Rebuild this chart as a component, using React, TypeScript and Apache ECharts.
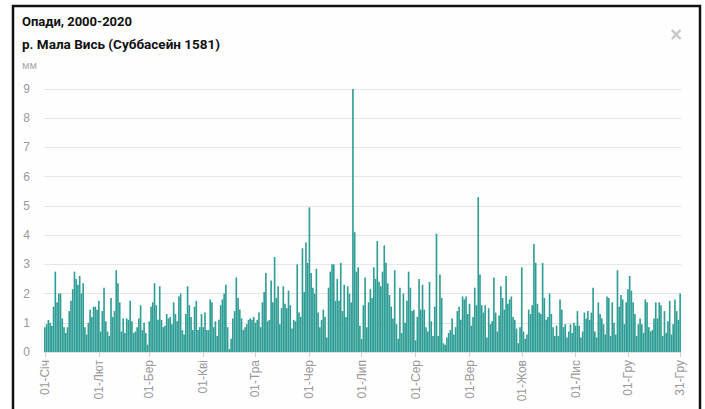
import React, { useEffect, useRef } from "react";
import * as echarts from "echarts";

const monthNames = ["Січ", "Лют", "Бер", "Кві", "Тра", "Чер", "Лип", "Сер", "Вер", "Жов", "Лис", "Гру"];
const monthDays = [31, 29, 31, 30, 31, 30, 31, 31, 30, 31, 30, 31];

const categories: string[] = [];
monthNames.forEach((m, mi) => {
  for (let d = 1; d <= monthDays[mi]; d++) {
    categories.push((d < 10 ? "0" + d : "" + d) + "-" + m);
  }
});

const valuesJanFeb = [
  0.85, 0.95, 1.1, 1.0, 0.9, 1.55, 2.75, 1.7, 2.0, 2.0,
  1.15, 0.85, 0.65, 0.85, 1.4, 1.75, 2.15, 2.75, 2.5, 2.3,
  2.6, 2.0, 2.35, 0.85, 0.6, 1.0, 1.45, 1.2, 1.55, 1.55,
  1.45, 1.75, 0.7, 1.4, 2.2, 1.05, 0.7, 0.55, 1.85, 1.2,
  1.4, 2.8, 2.35, 1.7, 0.7, 1.15, 0.65, 1.15, 1.1, 1.75,
  1.05, 0.65, 0.7, 0.85, 1.15, 1.6, 0.75, 1.0, 0.65,
];
const valuesMarApr = [
  0.25, 1.05, 1.55, 1.7, 2.35, 1.6, 1.1, 2.25, 1.1, 0.85,
  0.9, 1.3, 1.15, 1.2, 0.95, 1.7, 1.3, 1.05, 1.9, 2.0,
  0.75, 0.6, 1.3, 2.25, 1.6, 1.2, 0.75, 1.55, 1.75, 0.75,
  0.85, 1.3, 0.85, 1.35, 0.75, 0.75, 1.8, 1.7, 0.85, 1.05,
  0.55, 1.1, 1.6, 1.8, 2.0, 2.3, 0.85, 0.1, 0.45, 1.15,
  1.4, 2.55, 1.85, 1.45, 1.15, 0.75, 0.85, 0.95, 1.1, 1.15,
  1.1,
];
const valuesMayJun = [
  1.2, 1.0, 1.1, 1.35, 0.85, 1.7, 2.05, 2.7, 1.05, 1.1,
  2.45, 1.7, 3.25, 1.85, 2.25, 0.95, 1.5, 2.25, 1.65, 1.5,
  2.1, 1.6, 0.8, 1.1, 1.05, 3.0, 1.35, 1.2, 3.55, 2.05,
  3.75, 3.05, 4.95, 2.7, 2.2, 2.0, 2.85, 1.35, 0.85, 1.1,
  1.45, 1.2, 0.5, 2.2, 2.75, 3.0, 3.0, 1.75, 2.5, 1.75,
  3.05, 1.4, 2.3, 1.2, 2.25, 2.0, 1.7, 9.0, 4.1, 2.75,
  2.9,
];
const valuesJulAug = [
  0.9, 0.45, 1.6, 2.55, 0.85, 1.7, 2.15, 1.85, 2.9, 2.5,
  3.8, 2.4, 2.25, 2.75, 3.65, 3.05, 2.35, 1.95, 1.55, 1.15,
  2.8, 0.95, 0.45, 2.2, 0.65, 2.0, 1.0, 1.75, 2.75, 2.2,
  1.4, 1.45, 0.4, 1.2, 2.5, 1.45, 2.3, 1.45, 0.85, 0.7,
  2.4, 1.05, 0.55, 1.55, 4.05, 0.55, 2.65, 1.85, 0.3, 0.25,
  0.5, 0.65, 0.75, 1.15, 0.6, 0.85, 1.4, 1.55, 1.1, 1.9,
  1.8,
];
const valuesSepOct = [
  1.9, 1.3, 1.65, 0.9, 1.2, 2.2, 1.6, 5.3, 2.65, 1.6,
  1.35, 1.6, 0.5, 1.5, 0.95, 1.05, 2.55, 1.35, 0.7, 1.25,
  2.25, 1.85, 1.45, 2.6, 1.65, 1.8, 1.9, 1.2, 1.1, 0.8,
  0.3, 0.85, 2.9, 0.7, 0.45, 0.6, 1.45, 1.3, 1.6, 3.7,
  3.05, 1.65, 1.35, 1.3, 3.05, 1.85, 1.1, 1.2, 2.0, 1.3,
  0.85, 0.55, 0.9, 0.55, 1.8, 1.45, 0.85, 0.95, 0.5, 0.7,
  0.95,
];
const valuesNovDec = [
  0.65, 1.0, 0.9, 1.4, 0.9, 0.5, 0.7, 1.35, 1.15, 1.4,
  1.1, 1.35, 2.2, 0.7, 0.5, 1.7, 1.3, 1.15, 0.95, 0.6,
  1.9, 1.85, 0.55, 1.7, 1.0, 0.6, 2.8, 1.55, 1.95, 1.8,
  0.95, 1.7, 2.15, 2.6, 2.1, 1.7, 1.3, 0.55, 0.95, 1.15,
  0.95, 0.65, 1.8, 1.7, 0.85, 0.7, 0.75, 1.15, 1.7, 1.15,
  1.7, 1.6, 0.55, 1.4, 0.65, 1.05, 1.75, 0.6, 0.95, 1.8,
  1.4, 1.1, 2.0,
];

const precipitation = [
  ...valuesJanFeb,
  ...valuesMarApr,
  ...valuesMayJun,
  ...valuesJulAug,
  ...valuesSepOct,
  ...valuesNovDec,
];

const yTicks = [0, 1, 2, 3, 4, 5, 6, 7, 8, 9];

const titleText = "Опади, 2000-2020";
const subtitleText = "р. Мала Вись (Суббасейн 1581)";
const unitText = "мм";

export default function App() {
  const ref = useRef<HTMLDivElement>(null);
  useEffect(() => {
    if (!ref.current) return;
    const chart = echarts.init(ref.current, null, { renderer: "svg" });
    const showLabel = (index: number, value: string) =>
      value.startsWith("01-") || index === categories.length - 1;
    chart.setOption({
      animation: false,
      backgroundColor: "#ffffff",
      graphic: [
        {
          type: "rect",
          shape: { x: 13, y: 6, width: 687, height: 430 },
          style: { fill: "#fefefe", stroke: "#111111", lineWidth: 2.5 },
          z: -10,
          silent: true,
        },
        {
          type: "text",
          x: 22,
          y: 15,
          style: { text: titleText, fill: "#111", font: "bold 13px Roboto" },
        },
        {
          type: "text",
          x: 22,
          y: 37,
          style: { text: subtitleText, fill: "#111", font: "bold 13.5px Roboto" },
        },
        {
          type: "text",
          x: 22,
          y: 60,
          style: { text: unitText, fill: "#aaaaaa", font: "10px Roboto" },
        },
        {
          type: "text",
          x: 669,
          y: 25,
          style: { text: "×", fill: "#c4c4c4", font: "bold 17px 'DejaVu Sans'" },
        },
      ],
      grid: { left: 44, right: 24, top: 89, bottom: 57, containLabel: false },
      xAxis: {
        type: "category",
        data: categories,
        axisLine: { show: true, lineStyle: { color: "#e0e0e0" } },
        axisTick: {
          show: true,
          alignWithLabel: true,
          interval: showLabel,
          length: 5,
          lineStyle: { color: "#d0d0d0" },
        },
        axisLabel: {
          interval: showLabel,
          rotate: 90,
          color: "#999999",
          fontSize: 12,
          fontFamily: "Liberation Sans",
          margin: 8,
        },
      },
      yAxis: {
        type: "value",
        min: yTicks[0],
        max: yTicks[yTicks.length - 1],
        interval: 1,
        axisLine: { show: false },
        axisTick: { show: false },
        axisLabel: {
          color: "#999999",
          fontSize: 12,
          fontFamily: "Liberation Sans",
          margin: 14,
        },
        splitLine: { lineStyle: { color: "#e6e6e6" } },
      },
      series: [
        {
          type: "bar",
          data: precipitation,
          barCategoryGap: "6%",
          itemStyle: { color: "#2e9d95" },
        },
      ],
    });
    return () => chart.dispose();
  }, []);
  return (
    <div
      ref={ref}
      style={{ position: "fixed", left: 0, top: 0, width: 705, height: 409 }}
    />
  );
}
